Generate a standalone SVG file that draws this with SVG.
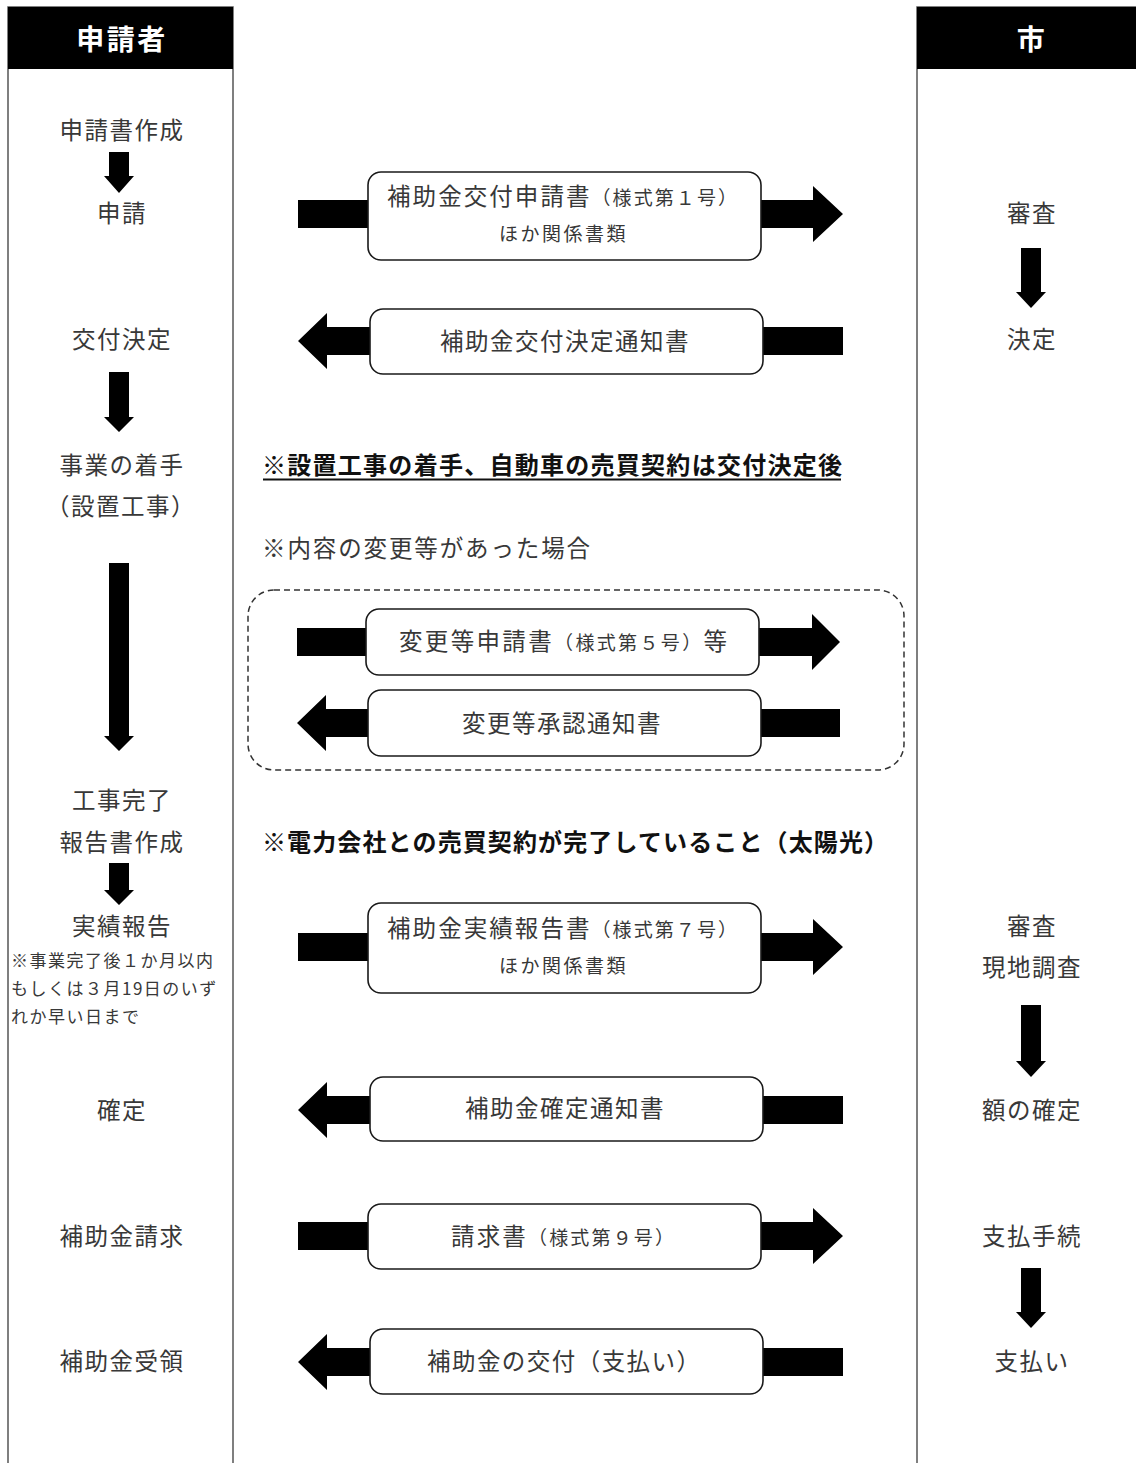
<svg xmlns="http://www.w3.org/2000/svg" width="1136" height="1463" viewBox="0 0 1136 1463">
<style>
text{font-family:"Noto Sans CJK JP","Noto Sans",sans-serif;fill:#383838}
.lbl{font-size:23.5px;letter-spacing:1.5px;text-anchor:middle}
.btx{font-size:23.5px;letter-spacing:1.5px}
.sm{font-size:19px}
.note{font-size:17px;letter-spacing:1.5px}
.hdr{font-size:28px;font-weight:bold;fill:#fff;text-anchor:middle;letter-spacing:2.5px}
.bold{font-size:24px;font-weight:bold;fill:#111}
.box{fill:#fff;stroke:#1a1a1a;stroke-width:1.6}
.frame{fill:none;stroke:#555;stroke-width:1.5}
.blk{fill:#000}
</style>
<rect width="1136" height="1463" fill="#fff"/>

<g id="lane-applicant">
<rect class="frame" x="8" y="7" width="225" height="1470"/>
<rect x="8" y="7" width="225" height="62" fill="#000"/>
<text class="hdr" x="122" y="50">申請者</text>
</g>
<g id="lane-city">
<rect class="frame" x="917" y="7" width="240" height="1470"/>
<rect x="917" y="7" width="240" height="62" fill="#000"/>
<text class="hdr" x="1032" y="50">市</text>
</g>

<g id="connectors">
<path class="blk" d="M109,152 H129 V176 H134 L119,193 L104,176 H109 Z"/>
<path class="blk" d="M109,372 H129 V417 H134 L119,432 L104,417 H109 Z"/>
<path class="blk" d="M109,563 H129 V736 H134 L119,751 L104,736 H109 Z"/>
<path class="blk" d="M109,863 H129 V890 H134 L119,905 L104,890 H109 Z"/>
<path class="blk" d="M1021,248 H1041 V292 H1046 L1031,308 L1016,292 H1021 Z"/>
<path class="blk" d="M1021,1005 H1041 V1061 H1046 L1031,1077 L1016,1061 H1021 Z"/>
<path class="blk" d="M1021,1268 H1041 V1312 H1046 L1031,1328 L1016,1312 H1021 Z"/>
<path class="blk" d="M298,200 H813 V186 L843,214 L813,242 V228 H298 Z"/>
<path class="blk" d="M843,327 H327 V313 L298,341 L327,369 V355 H843 Z"/>
<path class="blk" d="M297,628 H812 V614 L840,642 L812,670 V656 H297 Z"/>
<path class="blk" d="M840,709 H326 V695 L297,723 L326,751 V737 H840 Z"/>
<path class="blk" d="M298,933 H813 V919 L843,947 L813,975 V961 H298 Z"/>
<path class="blk" d="M843,1096 H327 V1082 L298,1110 L327,1138 V1124 H843 Z"/>
<path class="blk" d="M298,1222 H813 V1208 L843,1236 L813,1264 V1250 H298 Z"/>
<path class="blk" d="M843,1348 H327 V1334 L298,1362 L327,1390 V1376 H843 Z"/>
</g>

<g id="applicant-steps">
<text class="lbl" x="122" y="139">申請書作成</text>
<text class="lbl" x="122" y="222">申請</text>
<text class="lbl" x="122" y="348">交付決定</text>
<text class="lbl" x="122" y="474">事業の着手</text>
<text class="lbl" x="121" y="515">（設置工事）</text>
<text class="lbl" x="122" y="809">工事完了</text>
<text class="lbl" x="122" y="851">報告書作成</text>
<text class="lbl" x="122" y="935">実績報告</text>
<text class="note" x="11" y="967">※事業完了後１か月以内</text>
<text class="note" x="11" y="995">もしくは３月19日のいず</text>
<text class="note" x="11" y="1023">れか早い日まで</text>
<text class="lbl" x="122" y="1119">確定</text>
<text class="lbl" x="122" y="1245">補助金請求</text>
<text class="lbl" x="122" y="1370">補助金受領</text>
</g>

<g id="city-steps">
<text class="lbl" x="1032" y="222">審査</text>
<text class="lbl" x="1032" y="348">決定</text>
<text class="lbl" x="1032" y="935">審査</text>
<text class="lbl" x="1032" y="976">現地調査</text>
<text class="lbl" x="1032" y="1119">額の確定</text>
<text class="lbl" x="1032" y="1245">支払手続</text>
<text class="lbl" x="1032" y="1370">支払い</text>
</g>

<g id="doc-application">
<rect class="box" x="368" y="172" width="393" height="88" rx="13"/>
<text x="387" y="205" textLength="350" lengthAdjust="spacing" style="font-size:23.5px">補助金交付申請書<tspan class="sm">（様式第１号）</tspan></text>
<text class="sm" x="499" y="241" style="letter-spacing:2.5px">ほか関係書類</text>
</g>

<g id="doc-decision">
<rect class="box" x="370" y="309" width="393" height="65" rx="13"/>
<text class="btx" x="440" y="350">補助金交付決定通知書</text>
</g>

<g id="note-start">
<text class="bold" x="262" y="474" textLength="580" lengthAdjust="spacing">※設置工事の着手、自動車の売買契約は交付決定後</text>
<line x1="263" y1="479.5" x2="841" y2="479.5" stroke="#111" stroke-width="2"/>
</g>

<g id="note-change">
<text x="262" y="557" textLength="328" lengthAdjust="spacing" style="font-size:23.5px">※内容の変更等があった場合</text>
</g>

<g id="change-group">
<rect x="248" y="590" width="656" height="180" rx="26" fill="none" stroke="#333" stroke-width="1.5" stroke-dasharray="6 4"/>
</g>

<g id="doc-change-request">
<rect class="box" x="366" y="609" width="393" height="66" rx="13"/>
<text x="399" y="650" textLength="328" lengthAdjust="spacing" style="font-size:23.5px">変更等申請書<tspan class="sm">（様式第５号）</tspan>等</text>
</g>

<g id="doc-change-approval">
<rect class="box" x="368" y="690" width="393" height="66" rx="13"/>
<text class="btx" x="462" y="732">変更等承認通知書</text>
</g>

<g id="note-power">
<text class="bold" x="262" y="851" textLength="626" lengthAdjust="spacing">※電力会社との売買契約が完了していること（太陽光）</text>
</g>

<g id="doc-report">
<rect class="box" x="368" y="903" width="393" height="90" rx="13"/>
<text x="387" y="937" textLength="350" lengthAdjust="spacing" style="font-size:23.5px">補助金実績報告書<tspan class="sm">（様式第７号）</tspan></text>
<text class="sm" x="499" y="973" style="letter-spacing:2.5px">ほか関係書類</text>
</g>

<g id="doc-confirm">
<rect class="box" x="370" y="1077" width="393" height="64" rx="13"/>
<text class="btx" x="465" y="1117">補助金確定通知書</text>
</g>

<g id="doc-invoice">
<rect class="box" x="368" y="1204" width="393" height="65" rx="13"/>
<text x="451" y="1245" textLength="223" lengthAdjust="spacing" style="font-size:23.5px">請求書<tspan class="sm">（様式第９号）</tspan></text>
</g>

<g id="doc-payment">
<rect class="box" x="370" y="1329" width="393" height="65" rx="13"/>
<text x="427" y="1370" textLength="273" lengthAdjust="spacing" style="font-size:23.5px">補助金の交付（支払い）</text>
</g>
</svg>
